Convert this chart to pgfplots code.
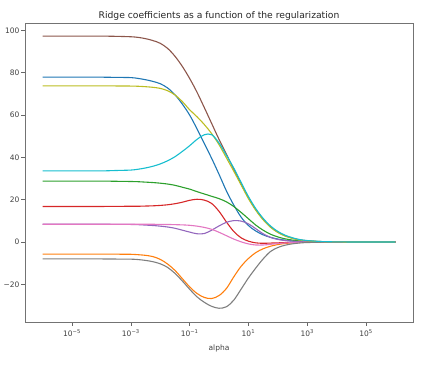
\documentclass[border=0pt]{standalone}
\usepackage{fontspec}
\setmainfont{DejaVu Sans}
\usepackage{pgfplots}
\pgfplotsset{compat=1.18}
\usepackage{pgfplotstable}
\definecolor{tblue}{HTML}{1F77B4}
\definecolor{torange}{HTML}{FF7F0E}
\definecolor{tgreen}{HTML}{2CA02C}
\definecolor{tred}{HTML}{D62728}
\definecolor{tpurple}{HTML}{9467BD}
\definecolor{tbrown}{HTML}{8C564B}
\definecolor{tpink}{HTML}{E377C2}
\definecolor{tgray}{HTML}{7F7F7F}
\definecolor{tolive}{HTML}{BCBD22}
\definecolor{tcyan}{HTML}{17BECF}
\pgfplotstableread{
a         c0    c1     c2    c3     c4    c5    c6    c7     c8    c9
1e-6      77.9  -5.7   28.8  16.8   8.4   97.3  8.4   -8.0   73.8  33.6
3.162e-6  77.9  -5.7   28.8  16.8   8.4   97.3  8.4   -8.0   73.8  33.6
1e-5      77.9  -5.7   28.8  16.8   8.4   97.3  8.4   -8.0   73.8  33.6
3.162e-5  77.9  -5.7   28.8  16.8   8.4   97.3  8.4   -8.0   73.8  33.6
1e-4      77.9  -5.7   28.8  16.8   8.4   97.3  8.4   -8.0   73.8  33.6
3.162e-4  77.8  -5.75  28.7  16.85  8.35  97.2  8.4   -8.05  73.75 33.8
1e-3      77.7  -5.8   28.6  16.9   8.3   97.0  8.4   -8.1   73.7  34.0
1.778e-3  77.3  -6.0   28.5  16.9   8.2   96.7  8.4   -8.3   73.6  34.4
3.162e-3  76.7  -6.3   28.3  17.0   8.0   96.1  8.4   -8.7   73.4  35.0
5.623e-3  75.9  -6.9   28.1  17.1   7.8   95.2  8.4   -9.3   73.1  35.8
0.01      74.8  -8.2   27.8  17.3   7.5   93.9  8.3   -10.3  72.6  36.9
0.017783  72.8  -10.4  27.4  17.6   7.1   91.5  8.3   -12.0  71.5  38.4
0.031623  69.6  -13.4  26.8  18.1   6.5   87.8  8.2   -14.8  69.5  40.3
0.056234  65.2  -17.3  25.9  18.8   5.6   83.0  8.1   -18.4  66.4  42.8
0.1       60.0  -21.2  25.0  19.7   4.7   77.3  7.9   -22.3  62.5  45.5
0.177828  53.5  -24.3  23.8  20.2   3.9   70.8  7.5   -25.9  59.2  48.5
0.316228  46.5  -26.2  22.7  19.8   4.0   63.5  6.9   -28.5  55.5  50.7
0.562341  39.5  -26.7  21.6  18.2   5.6   56.0  6.0   -30.4  51.2  50.7
1         32.0  -25.3  20.5  14.5   7.6   48.5  4.6   -31.3  46.0  46.8
1.778279  24.2  -22.0  19.0  9.5    9.3   41.5  3.0   -30.6  39.8  41.0
3.162278  17.5  -16.5  16.8  5.0    10.1  34.5  1.4   -27.5  33.5  35.0
5.623413  11.8  -11.5  14.0  2.0    9.9   27.5  0.1   -22.3  27.0  28.2
10        7.8   -7.8   11.0  0.4    8.6   21.0  -0.9  -17.0  20.5  21.5
17.78279  5.2   -5.0   8.0   -0.4   6.3   15.3  -1.4  -12.3  15.0  15.8
31.62278  3.4   -3.2   5.6   -0.6   3.9   10.8  -1.4  -8.0   10.5  11.2
56.23413  2.2   -2.0   3.7   -0.5   2.2   7.2   -1.1  -4.5   7.0   7.6
100       1.4   -1.2   2.4   -0.4   1.2   4.7   -0.7  -2.6   4.5   5.0
177.8279  0.85  -0.7   1.5   -0.25  0.7   3.0   -0.45 -1.5   2.8   3.2
316.2278  0.5   -0.4   0.9   -0.15  0.4   1.8   -0.3  -0.85  1.7   2.0
562.3413  0.28  -0.22  0.5   -0.08  0.22  1.0   -0.17 -0.45  0.95  1.15
1000      0.15  -0.12  0.3   -0.05  0.12  0.6   -0.1  -0.25  0.55  0.7
3162.278  0.05  -0.04  0.1   0      0.04  0.2   0     -0.08  0.18  0.22
10000     0     0      0     0      0     0.06  0     0      0.05  0.07
31622.78  0     0      0     0      0     0.02  0     0      0.02  0.02
100000    0     0      0     0      0     0     0     0      0     0
316227.8  0     0      0     0      0     0     0     0      0     0
1000000   0     0      0     0      0     0     0     0      0     0
}\coefs
\begin{document}
\begin{tikzpicture}
\path[use as bounding box] (-25pt,-43pt) rectangle (404pt,322pt);
\begin{axis}[
  scale only axis, width=388pt, height=299pt,
  xmode=log, xmin=2.5e-7, xmax=3.98e6, ymin=-37.8, ymax=103.5,
  xtick={1e-5,1e-3,1e-1,1e1,1e3,1e5},
  xticklabels={10\textsuperscript{−5},10\textsuperscript{−3},10\textsuperscript{−1},10\textsuperscript{1},10\textsuperscript{3},10\textsuperscript{5}},
  xminorticks=false,
  ytick={-20,0,20,40,60,80,100},
  yticklabels={−20,0,20,40,60,80,100},
  tick align=outside, tick pos=left, major tick length=3.5pt,
  every tick/.style={black!60, line width=0.6pt},
  axis line style={black!55, line width=0.7pt},
  tick label style={font=\fontsize{7.5}{9}\selectfont, text=black!75},
  xticklabel style={yshift=-1pt},
  yticklabel style={xshift=1.5pt},
  /pgf/number format/assume math mode=true,
  title={Ridge coefficients as a function of the regularization},
  title style={font=\fontsize{9.2}{11}\selectfont, text=black!85, at={(0.5,1)}, anchor=base, yshift=-1.5pt},
  xlabel={alpha},
  xlabel style={font=\fontsize{7.5}{9}\selectfont, text=black!75, at={(0.5,0)}, anchor=base, yshift=-28.5pt},
  every axis plot/.append style={line width=1.1pt, smooth, tension=0.55},
]
\addplot[tblue] table[x=a,y=c0]{\coefs};
\addplot[torange] table[x=a,y=c1]{\coefs};
\addplot[tgreen] table[x=a,y=c2]{\coefs};
\addplot[tred] table[x=a,y=c3]{\coefs};
\addplot[tpurple] table[x=a,y=c4]{\coefs};
\addplot[tbrown] table[x=a,y=c5]{\coefs};
\addplot[tpink] table[x=a,y=c6]{\coefs};
\addplot[tgray] table[x=a,y=c7]{\coefs};
\addplot[tolive] table[x=a,y=c8]{\coefs};
\addplot[tcyan] table[x=a,y=c9]{\coefs};
\end{axis}
\end{tikzpicture}
\end{document}
